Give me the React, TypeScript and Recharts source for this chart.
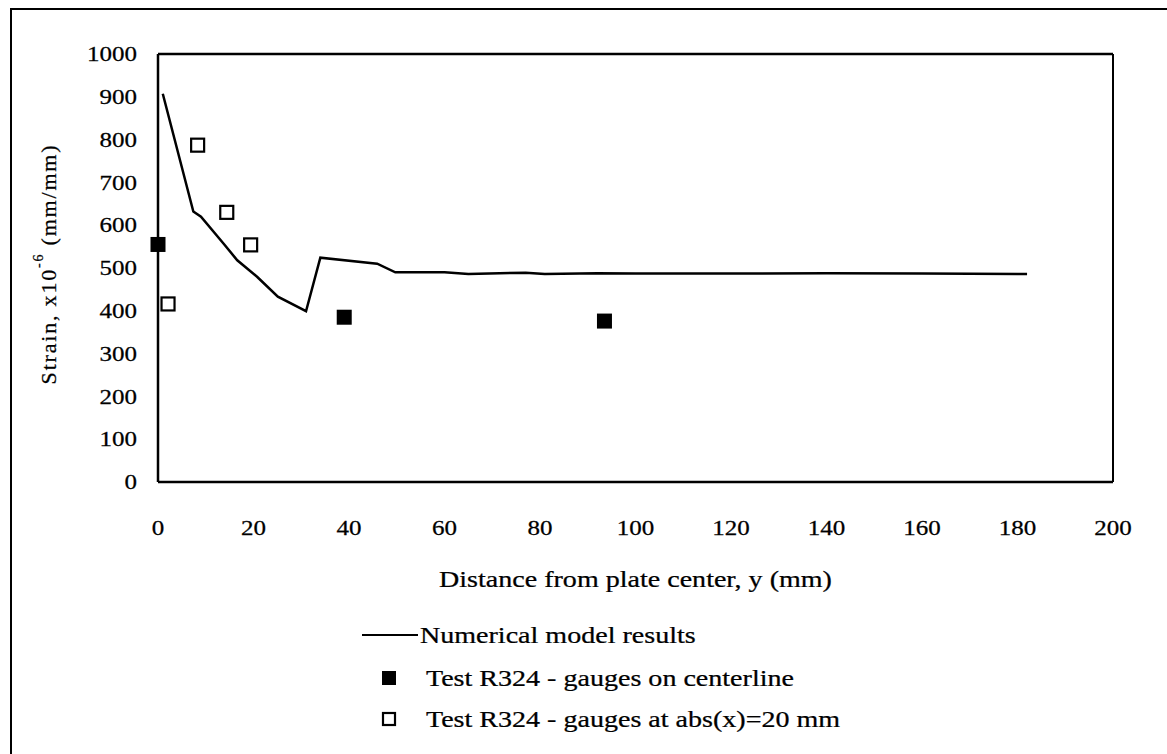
import {
  ComposedChart,
  Line,
  Scatter,
  XAxis,
  YAxis,
  ReferenceLine,
  Legend,
  Label,
} from 'recharts'

// numerical model curve
const modelX = [1, 7.4, 9, 13.8, 16.6, 20.8, 25.1, 31, 34, 45.9, 49.7, 60, 65, 77, 81, 92, 100, 120, 140, 160, 182]
const modelY = [907, 632, 620, 556, 518, 479, 433, 399, 524, 510, 490, 490, 486, 489, 486, 488, 487, 487, 488, 487, 486]

// gauges on centerline
const centerX = [0, 39, 93.5]
const centerY = [555, 385, 376]

// gauges at abs(x)=20 mm
const offsetX = [2.1, 8.3, 14.4, 19.4]
const offsetY = [416, 787, 630, 554]

const xTicks = [0, 20, 40, 60, 80, 100, 120, 140, 160, 180, 200]
const yTicks = [0, 100, 200, 300, 400, 500, 600, 700, 800, 900, 1000]

const modelData = modelX.map((x, i) => ({ x, y: modelY[i] }))
const centerData = centerX.map((x, i) => ({ x, y: centerY[i] }))
const offsetData = offsetX.map((x, i) => ({ x, y: offsetY[i] }))

const FONT = '"Liberation Serif", "Times New Roman", serif'
// the scanned original is a bit wider than it is tall
const SX = 1.22

function SText({ x, y, size, anchor = 'start', sx = SX, dy, children }: any) {
  return (
    <text
      transform={`translate(${x} ${y}) scale(${sx} 1)`}
      x={0}
      y={0}
      dy={dy}
      textAnchor={anchor}
      fontSize={size}
      fontFamily={FONT}
      fill="#000"
      stroke="#000"
      strokeWidth={0.25}
    >
      {children}
    </text>
  )
}

function XTick(props: any) {
  const { x, y, payload } = props
  return <SText x={x} y={y} size={20} anchor="middle" sx={1.25} dy="0.71em">{payload.value}</SText>
}

function YTick(props: any) {
  const { x, y, payload } = props
  return <SText x={x} y={y} size={20} anchor="end" sx={1.25} dy="0.355em">{payload.value}</SText>
}

function FilledSquare(props: any) {
  const { cx, cy } = props
  return <rect x={cx - 7.5} y={cy - 7.5} width={15} height={15} fill="#000" />
}

function OpenSquare(props: any) {
  const { cx, cy } = props
  return <rect x={cx - 6.5} y={cy - 6.5} width={13} height={13} fill="#fff" stroke="#000" strokeWidth={2.2} />
}

function LegendBox() {
  return (
    <svg width={520} height={130}>
      <line x1={12} y1={20} x2={68} y2={20} stroke="#000" strokeWidth={2} />
      <SText x={70} y={28} size={23}>Numerical model results</SText>
      <rect x={32} y={56} width={14} height={14} fill="#000" />
      <SText x={76} y={71} size={23}>Test R324 - gauges on centerline</SText>
      <rect x={33} y={98} width={12} height={12} fill="#fff" stroke="#000" strokeWidth={2.2} />
      <SText x={76} y={112} size={23}>Test R324 - gauges at abs(x)=20 mm</SText>
    </svg>
  )
}

function YTitle(props: any) {
  const { viewBox } = props
  const cx = 48
  const cy = viewBox.y + viewBox.height / 2 - 4
  return (
    <text
      x={cx}
      y={cy}
      transform={`rotate(-90 ${cx} ${cy})`}
      textAnchor="middle"
      dominantBaseline="central"
      fontSize={22}
      fontFamily={FONT}
      letterSpacing={1.8}
      fill="#000"
      stroke="#000"
      strokeWidth={0.25}
    >
      Strain, x10
      <tspan fontSize={14} dy={-10}>-6</tspan>
      <tspan dy={10}> (mm/mm)</tspan>
    </text>
  )
}

function XTitle(props: any) {
  const { viewBox } = props
  return (
    <SText x={viewBox.x + viewBox.width / 2} y={viewBox.y + 105} size={23} anchor="middle">
      Distance from plate center, y (mm)
    </SText>
  )
}

export default function App() {
  return (
    <div style={{ position: 'absolute', left: 0, top: 0, width: 1167, height: 754, overflow: 'hidden', background: '#fff' }}>
      <div
        style={{
          position: 'absolute',
          left: 10,
          top: 8,
          width: 1200,
          height: 800,
          borderTop: '2px solid #000',
          borderLeft: '2px solid #000',
        }}
      />
      <ComposedChart
        width={1167}
        height={754}
        margin={{ top: 54, right: 54, bottom: 212, left: 88 }}
      >
        <XAxis
          type="number"
          dataKey="x"
          domain={[0, 200]}
          ticks={xTicks}
          tickLine={false}
          tickSize={0}
          tickMargin={39}
          height={60}
          axisLine={{ stroke: '#000', strokeWidth: 2.5 }}
          tick={XTick}
        >
          <Label content={XTitle} />
        </XAxis>
        <YAxis
          type="number"
          dataKey="y"
          domain={[0, 1000]}
          ticks={yTicks}
          tickLine={false}
          tickSize={0}
          tickMargin={21}
          width={70}
          axisLine={{ stroke: '#000', strokeWidth: 2.5 }}
          tick={YTick}
        >
          <Label content={YTitle} />
        </YAxis>
        <ReferenceLine y={1000} stroke="#000" strokeWidth={2.5} />
        <ReferenceLine x={200} stroke="#000" strokeWidth={2} />
        <Line
          data={modelData}
          dataKey="y"
          type="linear"
          stroke="#000"
          strokeWidth={2.5}
          dot={false}
          activeDot={false}
          isAnimationActive={false}
          name="Numerical model results"
        />
        <Scatter
          data={centerData}
          dataKey="y"
          shape={FilledSquare}
          isAnimationActive={false}
          name="Test R324 - gauges on centerline"
        />
        <Scatter
          data={offsetData}
          dataKey="y"
          shape={OpenSquare}
          isAnimationActive={false}
          name="Test R324 - gauges at abs(x)=20 mm"
        />
        <Legend
          layout="vertical"
          align="center"
          verticalAlign="middle"
          content={LegendBox}
          wrapperStyle={{ left: 350, top: 615, width: 520, height: 130 }}
        />
      </ComposedChart>
    </div>
  )
}
